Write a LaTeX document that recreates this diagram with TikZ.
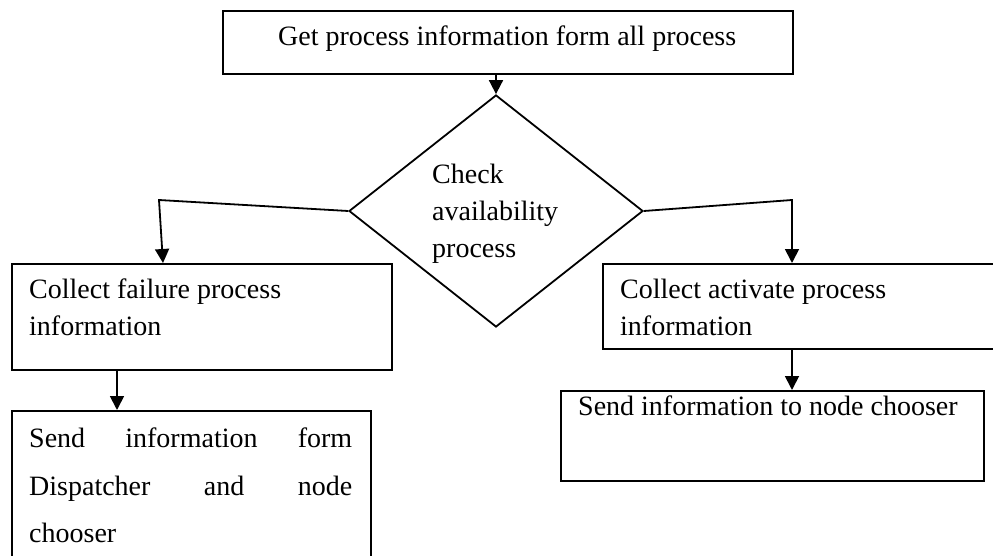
\documentclass[tikz,border=0pt]{standalone}
\usepackage{fontspec}
\setmainfont{Liberation Serif}
\usetikzlibrary{shapes.geometric,arrows.meta}
\begin{document}
\begin{tikzpicture}[x=1pt,y=-1pt,
  box/.style={draw,line width=1.8pt,rectangle,inner sep=0pt,anchor=north west},
  dia/.style={draw,line width=1.8pt,diamond,inner sep=0pt,minimum width=294pt,minimum height=232pt},
  txt/.style={inner sep=0pt,anchor=base west,font=\fontsize{28}{37}\selectfont},
  arr/.style={line width=1.8pt,-{Triangle[length=14pt,width=14pt]}}]
\useasboundingbox (0,0) rectangle (993,556);
% boxes
\node[box,minimum width=570pt,minimum height=63pt] (top) at (222,10) {};
\node[dia] (dia) at (496,211) {};
\node[box,minimum width=380pt,minimum height=106pt] (fail) at (11,263) {};
\node[box,minimum width=359pt,minimum height=200pt] (send1) at (11,410) {};
\node[box,minimum width=420pt,minimum height=85pt] (act) at (602,263) {};
\node[box,minimum width=423pt,minimum height=90pt] (send2) at (560,390) {};
% texts
\node[txt] (ttop) at (278,46) {Get process information form all process};
\node[txt] (td1) at (432,184) {Check};
\node[txt] (td2) at (432,221) {availability};
\node[txt] (td3) at (432,258) {process};
\node[txt] (tf1) at (29,298) {Collect failure process};
\node[txt] (tf2) at (29,335) {information};
\node[txt] (ts1) at (29,447) {\makebox[323pt][l]{Send\hfill information\hfill form}};
\node[txt] (ts2) at (29,495) {\makebox[323pt][l]{Dispatcher\hfill and\hfill node}};
\node[txt] (ts3) at (29,542) {chooser};
\node[txt] (ta1) at (620,298) {Collect activate process};
\node[txt] (ta2) at (620,335) {information};
\node[txt] (tn1) at (578,415) {Send information to node chooser};
% connectors
\coordinate (lbend) at (159,200);
\coordinate (lin) at (163,263);
\coordinate (rbend) at (792,200);
\draw[arr] (dia.north |- top.south) -- (dia.north);
\draw[arr] (dia.west) -- (lbend) -- (lin);
\draw[arr] (dia.east) -- (rbend) -- (rbend |- act.north);
\draw[arr] ([xshift=106pt]fail.south west) -- ([xshift=106pt]send1.north west);
\draw[arr] (rbend |- act.south) -- (rbend |- send2.north);
\end{tikzpicture}
\end{document}
